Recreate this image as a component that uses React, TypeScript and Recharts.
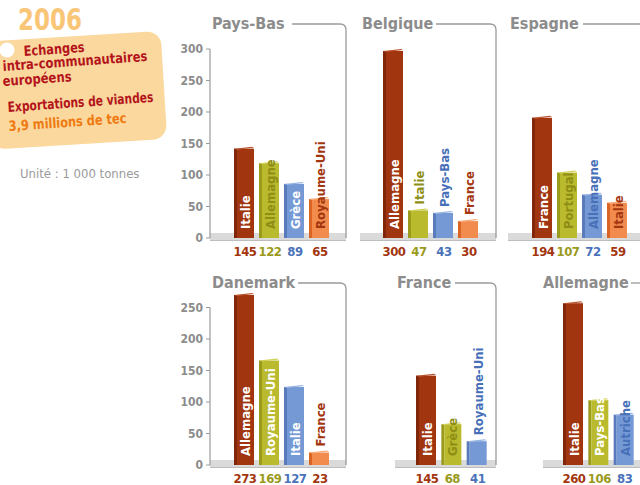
import React from 'react';
import { BarChart, Bar, XAxis, YAxis, LabelList } from 'recharts';

const FONT = '"DejaVu Sans Condensed", "DejaVu Sans", sans-serif';

// ---------- data ----------
const paysBasPartners = ['Italie', 'Allemagne', 'Grèce', 'Royaume-Uni'];
const paysBasValues = [145, 122, 89, 65];
const belgiquePartners = ['Allemagne', 'Italie', 'Pays-Bas', 'France'];
const belgiqueValues = [300, 47, 43, 30];
const espagnePartners = ['France', 'Portugal', 'Allemagne', 'Italie'];
const espagneValues = [194, 107, 72, 59];
const danemarkPartners = ['Allemagne', 'Royaume-Uni', 'Italie', 'France'];
const danemarkValues = [273, 169, 127, 23];
const francePartners = ['Italie', 'Grèce', 'Royaume-Uni'];
const franceValues = [145, 68, 41];
const allemagnePartners = ['Italie', 'Pays-Bas', 'Autriche'];
const allemagneValues = [260, 106, 83];

const yTicksTop = [0, 50, 100, 150, 200, 250, 300];
const yTicksBottom = [0, 50, 100, 150, 200, 250];
const Y_MAX = 300;

// ---------- styles ----------
const BAR_FILL = ['#A1350F', '#BABA2F', '#7599D5', '#F28C4E'];
const BAR_SIDE = ['#7F2708', '#9A9A1B', '#5A7BBB', '#DA6424'];
const BAR_TOP = ['#BC5530', '#D0D058', '#97B3E2', '#F8AA7A'];
const INK = ['#A3360F', '#8E8D14', '#4770B8', '#A3360F'];
const VALUE_INK = ['#A3360F', '#9A9A1C', '#4A72BA', '#A3360F'];
const GRAY = '#8C8C8C';

type Mode = 'in' | 'tint' | 'above';

const PLOT_H = 189;
const M_TOP = 10;
const M_BOTTOM = 20;
const TOP_PLOT = 49;
const BOTTOM_PLOT = 276;
const AXIS_W = 40;
const TICK_SIZE = 4;
const TICK_MARGIN = 3;

interface PanelCfg {
  title: string;
  partners: string[];
  values: number[];
  modes: Mode[];
  row: 0 | 1;
  left: number;
  right: number;
  pad: { left: number; right: number };
  ticks?: number[];
  titleX: number;
  lineStart: number;
  frame: boolean;
}

const panels: PanelCfg[] = [
  { title: 'Pays-Bas', partners: paysBasPartners, values: paysBasValues, modes: ['in', 'tint', 'in', 'tint'], row: 0, left: 210, right: 346, pad: { left: 21, right: 15 }, ticks: yTicksTop, titleX: 212, lineStart: 292, frame: true },
  { title: 'Belgique', partners: belgiquePartners, values: belgiqueValues, modes: ['in', 'above', 'above', 'above'], row: 0, left: 360, right: 496, pad: { left: 20, right: 16 }, titleX: 362, lineStart: 436, frame: true },
  { title: 'Espagne', partners: espagnePartners, values: espagneValues, modes: ['in', 'tint', 'tint', 'tint'], row: 0, left: 508, right: 640, pad: { left: 21, right: 11 }, titleX: 510, lineStart: 583, frame: false },
  { title: 'Danemark', partners: danemarkPartners, values: danemarkValues, modes: ['in', 'in', 'in', 'above'], row: 1, left: 210, right: 346, pad: { left: 21, right: 15 }, ticks: yTicksBottom, titleX: 212, lineStart: 298, frame: true },
  { title: 'France', partners: francePartners, values: franceValues, modes: ['in', 'tint', 'above'], row: 1, left: 395, right: 496, pad: { left: 18, right: 7 }, titleX: 397, lineStart: 455, frame: true },
  { title: 'Allemagne', partners: allemagnePartners, values: allemagneValues, modes: ['in', 'in', 'tint'], row: 1, left: 543, right: 640, pad: { left: 17, right: 4 }, titleX: 543, lineStart: 631, frame: false },
];

const AxisTick = (props: any) => {
  const { x, y, payload } = props;
  const axisX = x + TICK_SIZE + TICK_MARGIN;
  const step = (PLOT_H * 50) / Y_MAX;
  return (
    <g>
      {payload.value > 0 && (
        <line x1={axisX} x2={axisX} y1={y} y2={y + step} stroke="#9A9A9A" strokeWidth={1.2} />
      )}
      <text x={x} y={y} textAnchor="end" dominantBaseline="central" fill={GRAY} fontFamily={FONT} fontWeight="bold" fontSize={12}>
        {payload.value}
      </text>
    </g>
  );
};

const Bar3D = (props: any) => {
  const { x, y, width, height, index } = props;
  if (!height || height <= 0) return null;
  const s = 3;
  const bottom = y + height + 1;
  return (
    <g>
      <rect x={x} y={y + 2} width={s} height={bottom - y - 2} fill={BAR_SIDE[index]} />
      <rect x={x + s} y={y + 2} width={width - s} height={bottom - y - 2} fill={BAR_FILL[index]} />
      <polygon points={`${x},${y + 2} ${x + width - 2},${y} ${x + width},${y + 1} ${x + s},${y + 3}`} fill={BAR_TOP[index]} />
    </g>
  );
};

const box = (props: any) => {
  const vb = props.viewBox || {};
  const x = vb.x ?? props.x;
  const y = vb.y ?? props.y;
  const w = vb.width ?? props.width;
  const h = vb.height ?? props.height;
  return { x: Number(x), y: Number(y), w: Number(w), h: Number(h) };
};

function Panel({ p }: { p: PanelCfg }) {
  const data = p.partners.map((name, i) => ({ name, value: p.values[i] }));
  const hasAxis = !!p.ticks;
  const axisW = hasAxis ? AXIS_W : 0;
  const plotW = p.right - p.left;
  const top = (p.row === 0 ? TOP_PLOT : BOTTOM_PLOT) - M_TOP;

  const nameLabel = (props: any) => {
    const { x, y, w, h } = box(props);
    const i = props.index;
    const mode = p.modes[i];
    const cx = x + 1.5 + w / 2;
    const baseY = mode === 'above' ? y - 4 : y + h - 9;
    const fill = mode === 'in' ? '#FFFFFF' : INK[i];
    return (
      <text x={cx} y={baseY} transform={`rotate(-90 ${cx} ${baseY})`} textAnchor="start" dominantBaseline="central" fill={fill} fontFamily={FONT} fontWeight="bold" fontSize={13}>
        {props.value}
      </text>
    );
  };

  const valueLabel = (props: any) => {
    const { x, y, w, h } = box(props);
    const i = props.index;
    const cx = x + 1 + w / 2;
    return (
      <text x={cx} y={y + h + 18} textAnchor="middle" fill={VALUE_INK[i]} fontFamily={FONT} fontWeight="bold" fontSize={13} letterSpacing={-0.5}>
        {props.value}
      </text>
    );
  };

  return (
    <div style={{ position: 'absolute', left: p.left - axisW, top }}>
      <BarChart width={axisW + plotW} height={M_TOP + PLOT_H + M_BOTTOM} data={data} margin={{ top: M_TOP, right: 0, bottom: M_BOTTOM, left: 0 }} style={{ overflow: 'visible' }}>
        <XAxis dataKey="name" hide padding={p.pad} />
        <YAxis
          domain={[0, Y_MAX]}
          allowDataOverflow
          hide={!hasAxis}
          ticks={p.ticks}
          interval={0}
          width={axisW}
          axisLine={false}
          tickLine={{ stroke: '#9A9A9A' }}
          tickSize={TICK_SIZE}
          tickMargin={TICK_MARGIN}
          tick={<AxisTick />}
        />
        <Bar dataKey="value" barSize={20} shape={(sp: any) => <Bar3D {...sp} />} isAnimationActive={false}>
          <LabelList dataKey="name" content={nameLabel} />
          <LabelList dataKey="value" content={valueLabel} />
        </Bar>
      </BarChart>
    </div>
  );
}

function Background() {
  return (
    <svg width={640} height={485} style={{ position: 'absolute', left: 0, top: 0 }}>
      {/* note box */}
      <g transform="rotate(-3.5 80 90)">
        <rect x={-12} y={36} width={176} height={108} rx={14} fill="#FBD89D" />
      </g>
      <text x={18} y={30} fill="#F9C677" fontFamily={FONT} fontWeight="bold" fontSize={30} textLength={64} lengthAdjust="spacingAndGlyphs">2006</text>
      <circle cx={7} cy={50} r={7.5} fill="#FFFFFF" />
      {[
        { t: 'Echanges', x: 24, y: 56, l: 61, c: '#B3141C' },
        { t: 'intra-communautaires', x: 3, y: 71, l: 145, c: '#B3141C' },
        { t: 'européens', x: 3, y: 86, l: 69, c: '#B3141C' },
        { t: 'Exportations de viandes', x: 8, y: 112, l: 146, c: '#B3141C' },
        { t: '3,9 millions de tec', x: 9, y: 131, l: 118, c: '#EE7A12' },
      ].map((d) => (
        <text key={d.t} x={d.x} y={d.y} transform={`rotate(-4 ${d.x} ${d.y})`} fill={d.c} fontFamily={FONT} fontWeight="bold" fontSize={14} textLength={d.l} lengthAdjust="spacingAndGlyphs">
          {d.t}
        </text>
      ))}
      <text x={20} y={178} fill="#9A9A9A" fontFamily={FONT} fontSize={13}>Unité : 1 000 tonnes</text>

      {panels.map((p) => {
        const base = (p.row === 0 ? TOP_PLOT : BOTTOM_PLOT) + PLOT_H;
        const lineY = p.row === 0 ? 24 : 283;
        const titleY = p.row === 0 ? 29 : 288;
        const path = p.frame
          ? `M ${p.lineStart} ${lineY} H ${p.right - 6} Q ${p.right} ${lineY} ${p.right} ${lineY + 6} V ${base}`
          : `M ${p.lineStart} ${lineY} H 640`;
        return (
          <g key={p.title}>
            <rect x={p.left} y={base - 5} width={p.right - p.left} height={7} fill="#DADADA" />
            <line x1={p.left} x2={p.right} y1={base + 2.5} y2={base + 2.5} stroke="#BDBDBD" strokeWidth={1} />
            <text x={p.titleX} y={titleY} fill={GRAY} fontFamily={FONT} fontWeight="bold" fontSize={16}>{p.title}</text>
            <path d={path} fill="none" stroke="#9A9A9A" strokeWidth={1.3} />
          </g>
        );
      })}
    </svg>
  );
}

export default function App() {
  return (
    <div style={{ position: 'absolute', left: 0, top: 0, width: 640, height: 485, overflow: 'hidden', background: '#FFFFFF' }}>
      <Background />
      {panels.map((p) => (
        <Panel key={p.title} p={p} />
      ))}
    </div>
  );
}
